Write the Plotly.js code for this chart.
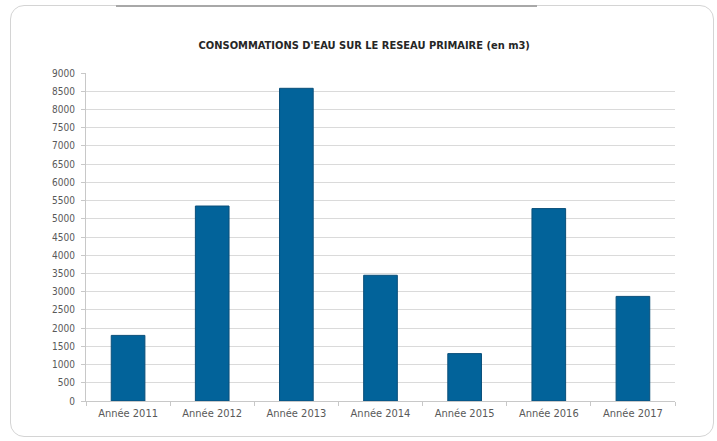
<!DOCTYPE html>
<html>
<head>
<meta charset="utf-8">
<script src="https://cdn.plot.ly/plotly-3.0.1.min.js"></script>
<style>
  html, body { margin: 0; padding: 0; background: #ffffff; }
  #wrap { position: relative; width: 717px; height: 441px; }
  #chart { position: absolute; left: 0; top: 0; width: 717px; height: 441px; }
  #frame { position: absolute; left: 10px; top: 5px; width: 704px; height: 432px;
           border: 1px solid #d4d4d4; border-radius: 14px; pointer-events: none; box-sizing: border-box; }
  #topline { position: absolute; left: 116px; top: 5px; width: 421px; height: 2px;
             background: #a8a8a8; pointer-events: none; }
</style>
</head>
<body>
<div id="wrap">
  <div id="chart"></div>
  <div id="frame"></div>
  <div id="topline"></div>
</div>
<script>
const categories = ["Année 2011", "Année 2012", "Année 2013", "Année 2014", "Année 2015", "Année 2016", "Année 2017"];
const consumption = [1800, 5350, 8580, 3450, 1300, 5280, 2870];
const yTickValues = [0, 500, 1000, 1500, 2000, 2500, 3000, 3500, 4000, 4500, 5000, 5500, 6000, 6500, 7000, 7500, 8000, 8500, 9000];
const chartTitle = "CONSOMMATIONS D'EAU SUR LE RESEAU PRIMAIRE (en m3)";

const fontFamily = "'Liberation Sans Narrow', 'DejaVu Sans Condensed', 'Open Sans', sans-serif";

const trace = {
  type: "bar",
  x: categories,
  y: consumption,
  width: 0.4,
  marker: { color: "#02639a", line: { color: "#0a4f7a", width: 1 } },
  hoverinfo: "x+y"
};

const layout = {
  width: 717,
  height: 441,
  margin: { l: 86, r: 42, t: 73, b: 40 },
  paper_bgcolor: "#ffffff",
  plot_bgcolor: "#ffffff",
  showlegend: false,
  title: {
    text: chartTitle,
    x: 0.508, xanchor: "center", xref: "container",
    y: 0.897, yanchor: "middle", yref: "container",
    font: { family: fontFamily, size: 11, color: "#262626", weight: "bold" }
  },
  xaxis: {
    type: "category",
    tickson: "boundaries",
    ticks: "outside",
    ticklen: 4,
    tickcolor: "#c8c8c8",
    showline: true,
    linecolor: "#c8c8c8",
    linewidth: 1,
    showgrid: false,
    ticklabelstandoff: 2,
    tickfont: { family: fontFamily, size: 11, color: "#595959" },
    fixedrange: true
  },
  yaxis: {
    range: [0, 9000],
    tickmode: "array",
    tickvals: yTickValues,
    ticktext: yTickValues.map(String),
    ticks: "outside",
    ticklen: 4,
    tickcolor: "#c8c8c8",
    showline: true,
    linecolor: "#c8c8c8",
    linewidth: 1,
    showgrid: true,
    gridcolor: "#dadada",
    gridwidth: 1,
    zeroline: false,
    ticklabelstandoff: 4,
    tickfont: { family: fontFamily, size: 10, color: "#595959" },
    fixedrange: true
  },
  bargap: 0.6
};

Plotly.newPlot("chart", [trace], layout, { displayModeBar: false });
</script>
</body>
</html>
